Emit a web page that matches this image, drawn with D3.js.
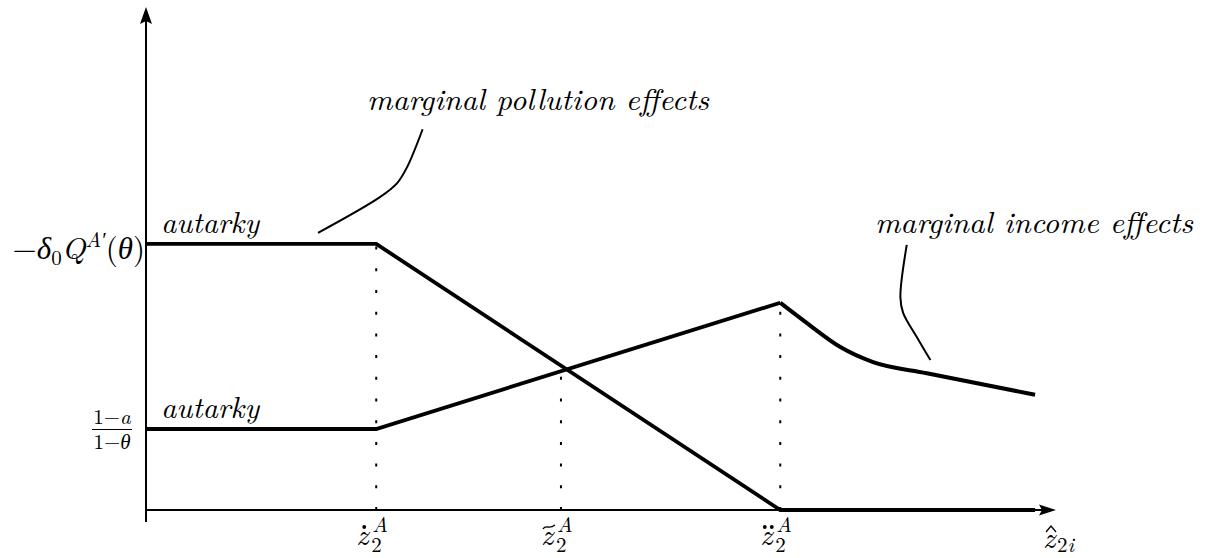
<!DOCTYPE html>
<html>
<head>
<meta charset="utf-8">
<script src="https://cdn.jsdelivr.net/npm/d3@7"></script>
<style>
  body { margin: 0; background: #fff; }
  svg text { font-family: "Latin Modern Roman", "Liberation Serif", serif; fill: #000; }
</style>
</head>
<body>
<svg id="chart"></svg>
<script>
// thresholds on the z axis (dot, tilde, double dot)
const kinks = [0.253, 0.456, 0.697];
const kinkAccents = ["dot", "tilde", "ddot"];

// marginal pollution effects
const pollution = [[0, 0.529], [0.253, 0.529], [0.697, 0], [0.977, 0]];

// marginal income effects: straight part, then the falling curve
const incomeLinear = [[0, 0.161], [0.253, 0.161], [0.697, 0.412]];
const incomeCurve = [[0.697, 0.412], [0.726, 0.372], [0.763, 0.324], [0.799, 0.294], [0.858, 0.272], [0.977, 0.229]];

// dotted drop lines: [x, top]
const drops = [[0.253, 0.529], [0.456, 0.27], [0.697, 0.405]];

// leader lines for the annotations
const pollutionLeader = [[0.189, 0.551], [0.257, 0.622], [0.276, 0.650], [0.287, 0.682], [0.304, 0.757]];
const incomeLeader = [[0.836, 0.527], [0.829, 0.423], [0.832, 0.392], [0.847, 0.344], [0.862, 0.298]];

const width = 1208, height = 558;

const x = d3.scaleLinear().domain([0, 1]).range([146, 1056]);
const y = d3.scaleLinear().domain([0, 1]).range([510, 7]);

const svg = d3.select("#chart")
  .attr("width", width)
  .attr("height", height);

const line = d3.line().x(d => x(d[0])).y(d => y(d[1]));
const smooth = d3.line().x(d => x(d[0])).y(d => y(d[1])).curve(d3.curveMonotoneX);
const leader = d3.line().x(d => x(d[0])).y(d => y(d[1])).curve(d3.curveCatmullRom);

// axes
svg.append("line")
  .attr("x1", x(0)).attr("x2", x(0))
  .attr("y1", y(0) + 12).attr("y2", y(1) + 10)
  .attr("stroke", "#000").attr("stroke-width", 2);
svg.append("path")
  .attr("d", `M${x(0)},${y(1)} L${x(0) - 6},${y(1) + 17} L${x(0)},${y(1) + 14} L${x(0) + 6},${y(1) + 17} Z`)
  .attr("fill", "#000");

svg.append("line")
  .attr("x1", x(0)).attr("x2", x(1) - 10)
  .attr("y1", y(0)).attr("y2", y(0))
  .attr("stroke", "#000").attr("stroke-width", 2);
svg.append("path")
  .attr("d", `M${x(1)},${y(0)} L${x(1) - 17},${y(0) - 5.5} L${x(1) - 14},${y(0)} L${x(1) - 17},${y(0) + 5.5} Z`)
  .attr("fill", "#000");

// dotted drop lines
svg.selectAll(".drop")
  .data(drops)
  .join("line")
  .attr("class", "drop")
  .attr("x1", d => x(d[0])).attr("x2", d => x(d[0]))
  .attr("y1", y(0)).attr("y2", d => y(d[1]))
  .attr("stroke", "#000")
  .attr("stroke-width", 2)
  .attr("stroke-dasharray", "3,18.7");

// curves
svg.append("path").attr("d", line(pollution))
  .attr("fill", "none").attr("stroke", "#000").attr("stroke-width", 3.8)
  .attr("stroke-linejoin", "miter");
svg.append("path").attr("d", line(incomeLinear))
  .attr("fill", "none").attr("stroke", "#000").attr("stroke-width", 3.8);
svg.append("path").attr("d", smooth(incomeCurve))
  .attr("fill", "none").attr("stroke", "#000").attr("stroke-width", 4);

// leaders
svg.append("path").attr("d", leader(pollutionLeader))
  .attr("fill", "none").attr("stroke", "#000").attr("stroke-width", 2);
svg.append("path").attr("d", leader(incomeLeader))
  .attr("fill", "none").attr("stroke", "#000").attr("stroke-width", 2);

// annotation texts
function label(txt, px, py, len) {
  svg.append("text")
    .attr("x", px).attr("y", py)
    .style("font-size", "30px")
    .style("font-style", "italic")
    .attr("textLength", len)
    .attr("lengthAdjust", "spacingAndGlyphs")
    .text(txt);
}
label("marginal pollution effects", 367, 110, 342);
label("marginal income effects", 875, 233, 318);
label("autarky", 161, 233, 98);
label("autarky", 161, 418, 98);

// y labels
const yl = svg.append("text")
  .attr("x", x(0) - 1).attr("y", 259)
  .attr("text-anchor", "end")
  .style("font-size", "31px");
yl.append("tspan").text("\u2212");
yl.append("tspan").style("font-style", "italic").text("\u03B4");
yl.append("tspan").style("font-size", "21px").attr("dy", 6).text("0");
yl.append("tspan").style("font-style", "italic").attr("dy", -6).text("Q");
yl.append("tspan").style("font-style", "italic").style("font-size", "21px").attr("dy", -12).text("A\u2032");
yl.append("tspan").attr("dy", 12).text("(");
yl.append("tspan").style("font-style", "italic").text("\u03B8");
yl.append("tspan").text(")");

const fx = 112;
svg.append("text").attr("x", fx).attr("y", 424)
  .attr("text-anchor", "middle").style("font-size", "21px")
  .call(t => {
    t.append("tspan").text("1\u2212");
    t.append("tspan").style("font-style", "italic").text("a");
  });
svg.append("line").attr("x1", fx - 20).attr("x2", fx + 20)
  .attr("y1", 429.5).attr("y2", 429.5)
  .attr("stroke", "#000").attr("stroke-width", 1.2);
svg.append("text").attr("x", fx).attr("y", 449)
  .attr("text-anchor", "middle").style("font-size", "21px")
  .call(t => {
    t.append("tspan").text("1\u2212");
    t.append("tspan").style("font-style", "italic").text("\u03B8");
  });

// x tick labels: accented z with subscript 2 and superscript A
kinks.forEach((k, i) => {
  const cx = x(k) - 20;
  const g = svg.append("g");
  g.append("text").attr("x", cx).attr("y", 545)
    .style("font-size", "30px").style("font-style", "italic").text("z");
  const ax = cx + 8, ay = 527;
  if (kinkAccents[i] === "dot") {
    g.append("circle").attr("cx", ax).attr("cy", ay).attr("r", 1.9).attr("fill", "#000");
  } else if (kinkAccents[i] === "ddot") {
    g.append("circle").attr("cx", ax - 3.5).attr("cy", ay).attr("r", 1.9).attr("fill", "#000");
    g.append("circle").attr("cx", ax + 3.5).attr("cy", ay).attr("r", 1.9).attr("fill", "#000");
  } else {
    g.append("path")
      .attr("d", `M${ax - 6},${ay + 2} C${ax - 3},${ay - 3} ${ax},${ay + 3} ${ax + 6},${ay - 2}`)
      .attr("fill", "none").attr("stroke", "#000").attr("stroke-width", 1.4);
  }
  g.append("text").attr("x", cx + 15).attr("y", 552)
    .style("font-size", "21px").text("2");
  g.append("text").attr("x", cx + 16).attr("y", 532)
    .style("font-size", "21px").style("font-style", "italic").text("A");
});

// x axis label
const zx = 1043;
svg.append("text").attr("x", zx).attr("y", 548)
  .style("font-size", "30px").style("font-style", "italic").text("z");
svg.append("path")
  .attr("d", `M${zx + 3},${532} L${zx + 8},${526} L${zx + 13},${532}`)
  .attr("fill", "none").attr("stroke", "#000").attr("stroke-width", 1.3);
svg.append("text").attr("x", zx + 14).attr("y", 552)
  .style("font-size", "21px")
  .call(t => {
    t.append("tspan").text("2");
    t.append("tspan").style("font-style", "italic").text("i");
  });
</script>
</body>
</html>
